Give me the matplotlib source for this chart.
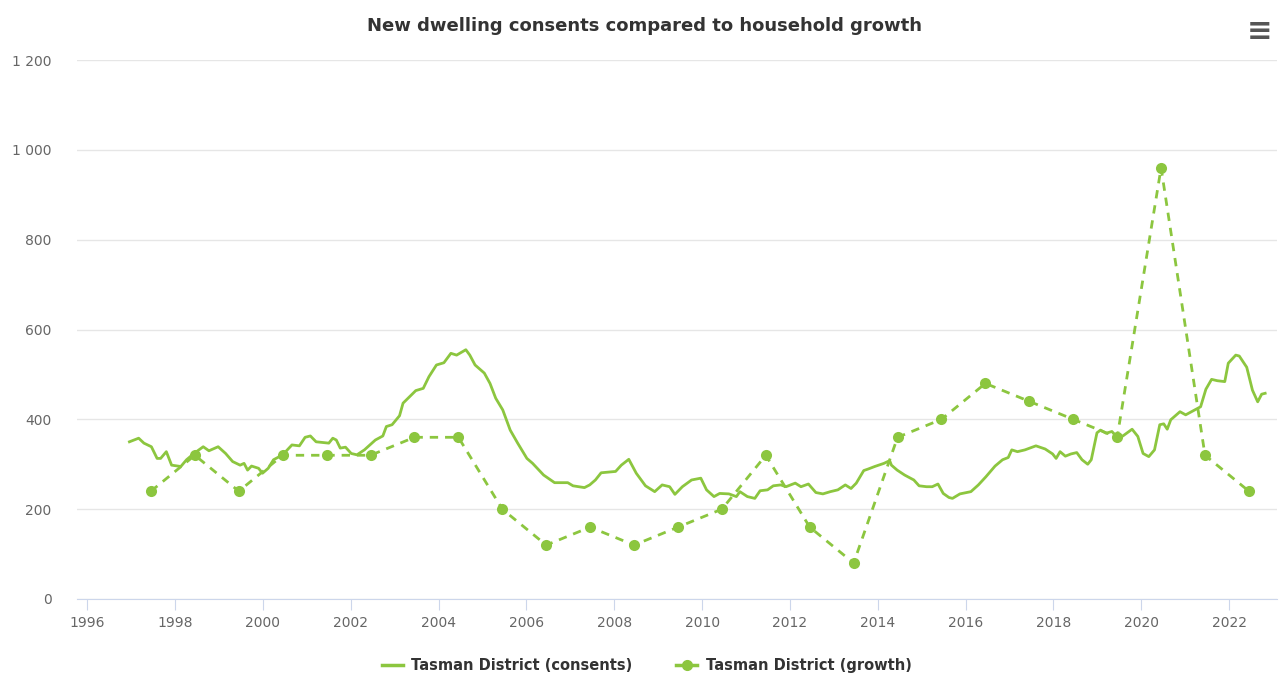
import numpy as np
import matplotlib.pyplot as plt
from matplotlib.lines import Line2D

plt.rcParams['font.family'] = ['Liberation Sans Narrow', 'DejaVu Sans']

green = '#8cc63f'

# consents (rolling annual)
cons_year = [1996.96, 1997.17, 1997.29, 1997.46, 1997.59, 1997.67, 1997.80, 1997.92, 1998.13, 1998.26,
             1998.43, 1998.64, 1998.77, 1998.98, 1999.15, 1999.31, 1999.48, 1999.57, 1999.65, 1999.74,
             1999.90, 1999.99, 2000.12, 2000.24, 2000.45, 2000.66, 2000.83, 2000.96, 2001.08, 2001.21,
             2001.42, 2001.50, 2001.59, 2001.67, 2001.76, 2001.88, 2002.01, 2002.14, 2002.31, 2002.56,
             2002.73, 2002.81, 2002.94, 2003.11, 2003.19, 2003.48, 2003.65, 2003.78, 2003.95, 2004.12,
             2004.28, 2004.41, 2004.62, 2004.71, 2004.83, 2005.04, 2005.17, 2005.30, 2005.46, 2005.63,
             2005.80, 2006.01, 2006.14, 2006.39, 2006.64, 2006.94, 2007.06, 2007.32, 2007.44, 2007.57,
             2007.70, 2008.03, 2008.16, 2008.33, 2008.50, 2008.71, 2008.92, 2009.09, 2009.26, 2009.38,
             2009.55, 2009.76, 2009.97, 2010.10, 2010.27, 2010.40, 2010.61, 2010.78, 2010.86, 2011.03,
             2011.20, 2011.32, 2011.49, 2011.62, 2011.79, 2011.91, 2012.12, 2012.25, 2012.42, 2012.59,
             2012.75, 2012.92, 2013.09, 2013.26, 2013.39, 2013.51, 2013.68, 2013.77, 2013.93, 2014.14,
             2014.27, 2014.31, 2014.44, 2014.61, 2014.82, 2014.94, 2015.11, 2015.24, 2015.37, 2015.49,
             2015.62, 2015.70, 2015.87, 2016.12, 2016.29, 2016.46, 2016.67, 2016.84, 2016.97, 2017.05,
             2017.18, 2017.35, 2017.60, 2017.81, 2017.98, 2018.06, 2018.15, 2018.27, 2018.40, 2018.53,
             2018.65, 2018.78, 2018.86, 2018.99, 2019.07, 2019.20, 2019.33, 2019.45, 2019.58, 2019.79,
             2019.92, 2020.04, 2020.17, 2020.30, 2020.42, 2020.51, 2020.59, 2020.67, 2020.88, 2021.01,
             2021.22, 2021.35, 2021.47, 2021.60, 2021.73, 2021.90, 2021.98, 2022.15, 2022.23, 2022.40,
             2022.53, 2022.65, 2022.74, 2022.82]
cons_val = [350, 358, 347, 339, 313, 313, 328, 298, 295, 310,
            324, 339, 330, 339, 324, 306, 298, 302, 287, 296,
            291, 280, 291, 310, 321, 343, 341, 360, 363, 350,
            348, 347, 358, 354, 336, 338, 324, 321, 332, 354,
            363, 384, 388, 408, 436, 464, 469, 495, 521, 526,
            547, 543, 555, 543, 521, 503, 480, 447, 421, 376,
            347, 313, 302, 276, 259, 259, 252, 248, 254, 265,
            281, 284, 298, 311, 280, 252, 239, 254, 250, 233,
            250, 265, 269, 243, 228, 235, 234, 228, 239, 228,
            224, 241, 243, 252, 254, 250, 258, 250, 256, 237,
            234, 239, 243, 254, 246, 258, 286, 289, 295, 302,
            308, 298, 287, 276, 265, 252, 250, 250, 256, 235,
            226, 224, 234, 239, 254, 272, 296, 310, 315, 332,
            328, 332, 341, 334, 323, 313, 328, 318, 323, 326,
            310, 300, 310, 370, 376, 369, 373, 360, 363, 378,
            362, 324, 317, 332, 388, 390, 378, 399, 417, 410,
            421, 428, 467, 489, 486, 484, 525, 543, 541, 516,
            465, 439, 456, 458]

# household growth, one point a year
growth_year = np.arange(1997, 2023) + 0.45
growth_val = [240, 320, 240, 320, 320, 320, 360, 360, 200, 120, 160, 120, 160,
              200, 320, 160, 80, 360, 400, 480, 440, 400, 360, 960, 320, 240]

x_ticks = list(range(1996, 2023, 2))
y_ticks = [0, 200, 400, 600, 800, 1000, 1200]
y_labels = ['0', '200', '400', '600', '800', '1 000', '1 200']

fig = plt.figure(figsize=(12.81, 6.94), dpi=100)
ax = fig.add_axes([0.0599, 0.1369, 0.937, 0.7766])

ax.plot(cons_year, cons_val, color=green, lw=2.0, solid_joinstyle='round')
ax.plot(growth_year, growth_val, color=green, lw=2.0, ls=(0, (3, 2.5)),
        marker='o', ms=8, markeredgewidth=0)

ax.set_xlim(1995.76, 2023.09)
ax.set_ylim(0, 1200)
ax.set_xticks(x_ticks)
ax.set_yticks(y_ticks)
ax.set_yticklabels(y_labels)
ax.grid(axis='y', color='#e6e6e6', lw=1)
ax.set_axisbelow(True)
for s in ['top', 'right', 'left']:
    ax.spines[s].set_visible(False)
ax.spines['bottom'].set_color('#ccd6eb')
ax.tick_params(axis='x', colors='#ccd6eb', length=8, labelcolor='#666666', labelsize=10, pad=4)
ax.tick_params(axis='y', length=0, labelcolor='#666666', labelsize=10, pad=18)

fig.text(0.503, 0.962, 'New dwelling consents compared to household growth',
         ha='center', va='center', fontsize=13, fontweight='bold', color='#333333')
fig.text(0.983, 0.954, '\u2261', ha='center', va='center', fontsize=22, color='#555555',
         family='DejaVu Sans', fontweight='bold')

handles = [Line2D([], [], color=green, lw=2.5),
           Line2D([], [], color=green, lw=2.5, marker='o', ms=7)]
fig.legend(handles, ['Tasman District (consents)', 'Tasman District (growth)'],
           loc='center', bbox_to_anchor=(0.505, 0.041), ncol=2, frameon=False,
           prop={'size': 10.5, 'weight': 'bold'}, labelcolor='#333333',
           handlelength=1.4, columnspacing=3.0, handletextpad=0.6)

fig.savefig('out.png', dpi=100)
